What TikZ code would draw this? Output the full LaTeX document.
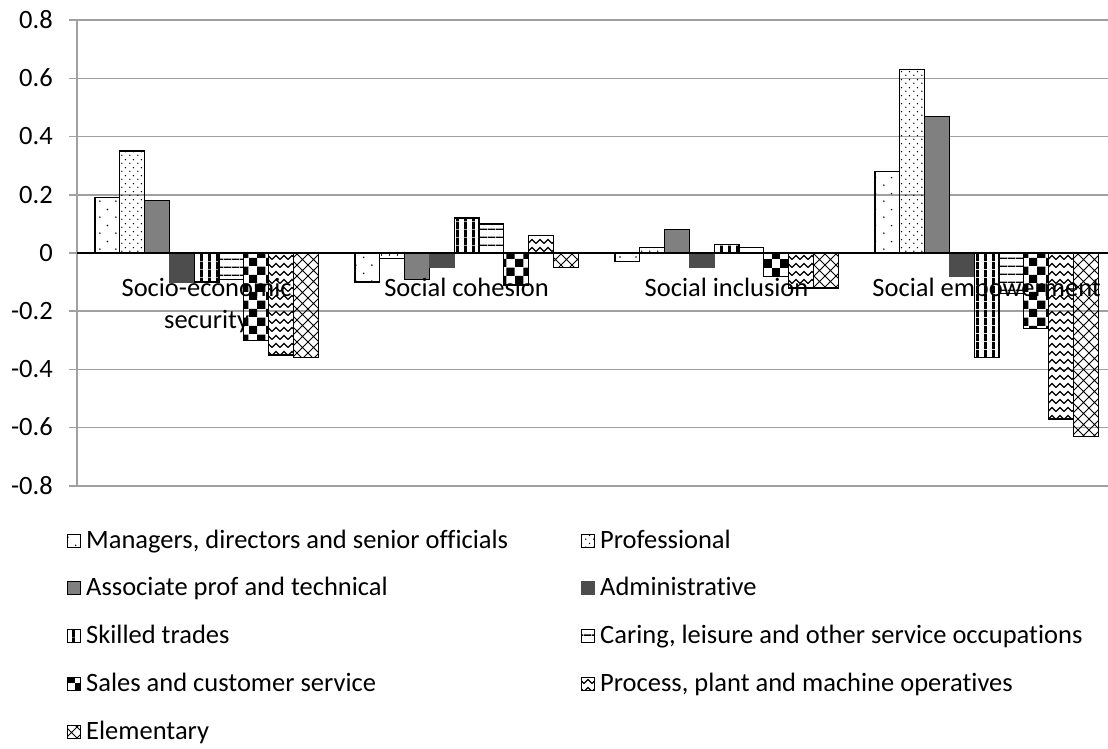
\documentclass[tikz,border=0pt]{standalone}
\usepackage{fontspec}
\setmainfont{Carlito}[Ligatures=NoCommon]
\usetikzlibrary{patterns.meta}
\definecolor{gridgray}{RGB}{160,160,160}
\definecolor{midgray}{RGB}{128,128,128}
\definecolor{admgray}{RGB}{77,77,77}
\tikzdeclarepattern{
  name=sparsedots, type=uncolored,
  bottom left={(0pt,0pt)}, top right={(16pt,16pt)},
  tile size={(16pt,16pt)},
  code={\fill (4pt,4pt) circle[radius=0.9pt]; \fill (12pt,12pt) circle[radius=0.9pt];}
}
\tikzdeclarepattern{
  name=densedots, type=uncolored,
  bottom left={(0pt,0pt)}, top right={(8pt,8pt)},
  tile size={(8pt,8pt)},
  code={\fill (2pt,2pt) circle[radius=0.8pt]; \fill (6pt,6pt) circle[radius=0.8pt];}
}
\tikzdeclarepattern{
  name=vstripes, type=uncolored,
  bottom left={(0pt,0pt)}, top right={(8pt,8pt)},
  tile size={(8pt,8pt)},
  code={\fill (0pt,0pt) rectangle (3pt,8pt);}
}
\tikzdeclarepattern{
  name=hlines, type=uncolored,
  bottom left={(0pt,0pt)}, top right={(8pt,7.5pt)},
  tile size={(8pt,7.5pt)},
  code={\fill (0pt,0pt) rectangle (8pt,1.5pt);}
}
\tikzdeclarepattern{
  name=checker, type=uncolored,
  bottom left={(0pt,0pt)}, top right={(16.6pt,16.6pt)},
  tile size={(16.6pt,16.6pt)},
  code={\fill (0pt,0pt) rectangle (8.3pt,8.3pt); \fill (8.3pt,8.3pt) rectangle (16.6pt,16.6pt);}
}
\tikzdeclarepattern{
  name=zigzag, type=uncolored,
  bottom left={(-1pt,-1pt)}, top right={(9pt,9pt)},
  tile size={(8pt,8pt)},
  code={\draw[line width=1.3pt] (0pt,1.5pt) -- (4pt,5.5pt) -- (8pt,1.5pt);}
}
\tikzdeclarepattern{
  name=xhatch, type=uncolored,
  bottom left={(-1pt,-1pt)}, top right={(12pt,12pt)},
  tile size={(11pt,11pt)},
  code={\draw[line width=0.9pt] (0pt,0pt) -- (11pt,11pt) (0pt,11pt) -- (11pt,0pt);}
}
\newcommand{\mybar}[4]{\path[#4] ({95+260*#1+24.8*(#2-1)},253) rectangle ({95+260*#1+24.8*#2},{253-291*(#3)});}
\newcommand{\legitem}[5]{%
  \path[#4,line width=0.8pt] (#1,{#2-14}) rectangle ({#1+13},{#2-1});
  \node[legtext] (#3) at ({#1+19},#2) {#5};}
\begin{document}
\begin{tikzpicture}[x=1pt,y=-1pt,
  font=\fontsize{26.5}{32}\selectfont,
  gridline/.style={draw=gridgray,line width=1.5pt},
  barbase/.style={draw=black,line width=1.3pt},
  ser1/.style={barbase,pattern=sparsedots},
  ser2/.style={barbase,pattern=densedots},
  ser3/.style={barbase,fill=midgray},
  ser4/.style={draw=admgray,line width=1.3pt,fill=admgray},
  ser5/.style={barbase,pattern=vstripes},
  ser6/.style={barbase,pattern=hlines},
  ser7/.style={barbase,pattern=checker},
  ser8/.style={barbase,pattern=zigzag},
  ser9/.style={barbase,pattern=xhatch},
  ticklab/.style={anchor=base east,inner sep=0pt},
  catlab/.style={anchor=base,inner sep=0pt},
  legtext/.style={anchor=base west,inner sep=0pt}
]
\useasboundingbox (0,0) rectangle (1108,749);
% grid
\foreach \k in {0,...,8} {\draw[gridline] (69,{20.2+58.2*\k}) -- (1108,{20.2+58.2*\k});}
\draw[gridline] (77,20.2) -- (77,485.8);
\foreach \k/\t in {0/0.8,1/0.6,2/0.4,3/0.2,4/0,5/-0.2,6/-0.4,7/-0.6,8/-0.8}
  {\node[ticklab] (t\k) at (53,{20.2+58.2*\k+8.3}) {\t};}
% bars: Socio-economic security
\mybar{0}{1}{0.19}{ser1}\mybar{0}{2}{0.35}{ser2}\mybar{0}{3}{0.18}{ser3}
\mybar{0}{4}{-0.10}{ser4}\mybar{0}{5}{-0.10}{ser5}\mybar{0}{6}{-0.09}{ser6}
\mybar{0}{7}{-0.30}{ser7}\mybar{0}{8}{-0.35}{ser8}\mybar{0}{9}{-0.36}{ser9}
% Social cohesion
\mybar{1}{1}{-0.10}{ser1}\mybar{1}{2}{-0.02}{ser2}\mybar{1}{3}{-0.09}{ser3}
\mybar{1}{4}{-0.05}{ser4}\mybar{1}{5}{0.12}{ser5}\mybar{1}{6}{0.10}{ser6}
\mybar{1}{7}{-0.11}{ser7}\mybar{1}{8}{0.06}{ser8}\mybar{1}{9}{-0.05}{ser9}
% Social inclusion
\mybar{2}{1}{-0.03}{ser1}\mybar{2}{2}{0.02}{ser2}\mybar{2}{3}{0.08}{ser3}
\mybar{2}{4}{-0.05}{ser4}\mybar{2}{5}{0.03}{ser5}\mybar{2}{6}{0.02}{ser6}
\mybar{2}{7}{-0.08}{ser7}\mybar{2}{8}{-0.12}{ser8}\mybar{2}{9}{-0.12}{ser9}
% Social empowerment
\mybar{3}{1}{0.28}{ser1}\mybar{3}{2}{0.63}{ser2}\mybar{3}{3}{0.47}{ser3}
\mybar{3}{4}{-0.08}{ser4}\mybar{3}{5}{-0.36}{ser5}\mybar{3}{6}{-0.14}{ser6}
\mybar{3}{7}{-0.26}{ser7}\mybar{3}{8}{-0.57}{ser8}\mybar{3}{9}{-0.63}{ser9}
% zero axis
\draw[black,line width=1.5pt] (77,253) -- (1108,253);
% category labels
\node[catlab] (c1a) at (206.6,296) {Socio-economic};
\node[catlab] (c1b) at (206.6,328) {security};
\node[catlab] (c2) at (466.6,296) {Social cohesion};
\node[catlab] (c3) at (726.6,296) {Social inclusion};
\node[catlab] (c4) at (986.6,296) {Social empowerment};
% legend
\legitem{67}{548}{l1}{ser1}{Managers, directors and senior officials}
\legitem{581}{548}{l2}{ser2}{Professional}
\legitem{67}{595.8}{l3}{ser3}{Associate prof and technical}
\legitem{581}{595.8}{l4}{ser4}{Administrative}
\legitem{67}{643.6}{l5}{ser5}{Skilled trades}
\legitem{581}{643.6}{l6}{ser6}{Caring, leisure and other service occupations}
\legitem{67}{691.4}{l7}{ser7}{Sales and customer service}
\legitem{581}{691.4}{l8}{ser8}{Process, plant and machine operatives}
\legitem{67}{739.2}{l9}{ser9}{Elementary}
\end{tikzpicture}
\end{document}
